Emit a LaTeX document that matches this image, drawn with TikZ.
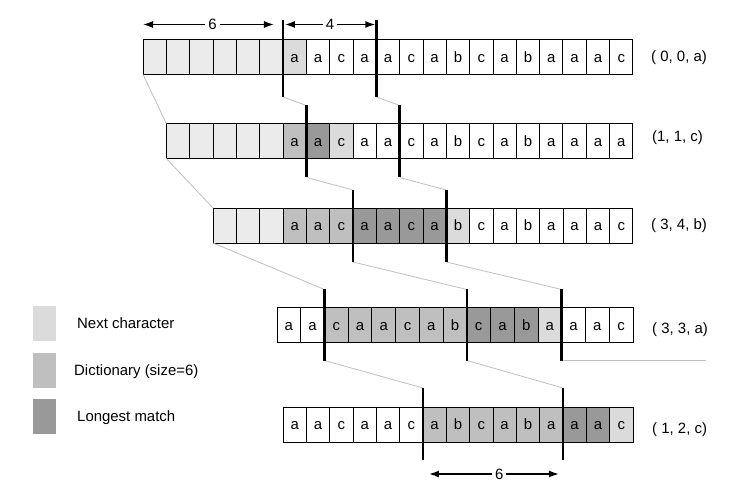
\documentclass[tikz,border=0pt]{standalone}
\usepackage{fontspec}
\setmainfont{Liberation Sans}
\usepackage{tikz}
\usetikzlibrary{arrows.meta,calc}
\definecolor{emptygray}{gray}{0.92}
\definecolor{nextgray}{gray}{0.86}
\definecolor{dictgray}{gray}{0.75}
\definecolor{matchgray}{gray}{0.6}
\definecolor{linkgray}{gray}{0.75}

\begin{document}
\begin{tikzpicture}[x=1bp, y=-1bp,
    every node/.style={font=\fontsize{15}{18}\selectfont},
    cell/.style={draw, line width=0.9bp, minimum width=#1, minimum height=35bp,
        inner sep=0pt, outer sep=0pt, text height=10.5bp, text depth=0pt},
    emp/.style={fill=emptygray},
    wht/.style={fill=white},
    dic/.style={fill=dictgray},
    mat/.style={fill=matchgray},
    nxt/.style={fill=nextgray},
    divider/.style={line width=2.6bp},
    link/.style={draw=linkgray, line width=0.8bp},
    span/.style={line width=1.4bp, {Latex[length=10bp,width=7bp]}-{Latex[length=10bp,width=7bp]}},
    tag/.style={anchor=base west, inner sep=0pt},
    swatch/.style={minimum width=23bp, minimum height=35bp, inner sep=0pt},
]
\useasboundingbox (0,0) rectangle (735,499);

% window 1
\foreach \t/\s [count=\i from 0] in {{}/emp,{}/emp,{}/emp,{}/emp,{}/emp,{}/emp,a/nxt,a/wht,c/wht,a/wht,a/wht,c/wht,a/wht,b/wht,c/wht,a/wht,b/wht,a/wht,a/wht,a/wht,c/wht}
  \node[cell=23.33bp,\s] (r1c\i) at ({143+23.33*(\i+0.5)},57) {\t};
% window 2
\foreach \t/\s [count=\i from 0] in {{}/emp,{}/emp,{}/emp,{}/emp,{}/emp,a/dic,a/mat,c/nxt,a/wht,a/wht,c/wht,a/wht,b/wht,c/wht,a/wht,b/wht,a/wht,a/wht,a/wht,a/wht}
  \node[cell=23.33bp,\s] (r2c\i) at ({166.33+23.33*(\i+0.5)},141) {\t};
% window 3
\foreach \t/\s [count=\i from 0] in {{}/emp,{}/emp,{}/emp,a/dic,a/dic,c/dic,a/mat,a/mat,c/mat,a/mat,b/nxt,c/wht,a/wht,b/wht,a/wht,a/wht,a/wht,c/wht}
  \node[cell=23.33bp,\s] (r3c\i) at ({213+23.33*(\i+0.5)},225.5) {\t};
% window 4
\foreach \t/\s [count=\i from 0] in {a/wht,a/wht,c/dic,a/dic,a/dic,c/dic,a/dic,b/dic,c/mat,a/mat,b/mat,a/nxt,a/wht,a/wht,c/wht}
  \node[cell=23.73bp,\s] (r4c\i) at ({277+23.73*(\i+0.5)},325) {\t};
% window 5
\foreach \t/\s [count=\i from 0] in {a/wht,a/wht,c/wht,a/wht,a/wht,c/wht,a/dic,b/dic,c/dic,a/dic,b/dic,a/dic,a/mat,a/mat,c/nxt}
  \node[cell=23.33bp,\s] (r5c\i) at ({283+23.33*(\i+0.5)},424.5) {\t};

% window borders
\coordinate (d1at) at ([yshift=19.5bp]r1c6.north west);
\coordinate (d1ab) at ([yshift=-22.5bp]r1c6.south west);
\coordinate (d1bt) at ([yshift=19.5bp]r1c10.north west);
\coordinate (d1bb) at ([yshift=-22.5bp]r1c10.south west);
\coordinate (d2at) at ([yshift=18bp]r2c6.north west);
\coordinate (d2ab) at ([yshift=-19bp]r2c6.south west);
\coordinate (d2bt) at ([yshift=18bp]r2c10.north west);
\coordinate (d2bb) at ([yshift=-19bp]r2c10.south west);
\coordinate (d3at) at ([yshift=18bp]r3c6.north west);
\coordinate (d3ab) at ([yshift=-19bp]r3c6.south west);
\coordinate (d3bt) at ([yshift=18bp]r3c10.north west);
\coordinate (d3bb) at ([yshift=-19bp]r3c10.south west);
\coordinate (d4at) at ([yshift=18bp]r4c2.north west);
\coordinate (d4ab) at ([yshift=-18bp]r4c2.south west);
\coordinate (d4bt) at ([yshift=18bp]r4c8.north west);
\coordinate (d4bb) at ([yshift=-18bp]r4c8.south west);
\coordinate (d4ct) at ([yshift=18bp]r4c12.north west);
\coordinate (d4cb) at ([yshift=-18bp]r4c12.south west);
\coordinate (d5at) at ([yshift=19bp]r5c6.north west);
\coordinate (d5ab) at ([yshift=-18bp]r5c6.south west);
\coordinate (d5bt) at ([yshift=19bp]r5c12.north west);
\coordinate (d5bb) at ([yshift=-18bp]r5c12.south west);
\coordinate (tail) at ([xshift=144bp]d4cb);

% links between windows
\draw[link] (r1c0.south west) -- (r2c0.north west);
\draw[link] (r2c0.south west) -- (r3c0.north west);
\draw[link] (r3c0.south west) -- (d4at);
\draw[link] (d1ab) -- (d2at);
\draw[link] (d1bb) -- (d2bt);
\draw[link] (d2ab) -- (d3at);
\draw[link] (d2bb) -- (d3bt);
\draw[link] (d3ab) -- (d4bt);
\draw[link] (d3bb) -- (d4ct);
\draw[link] (d4ab) -- (d5at);
\draw[link] (d4bb) -- (d5bt);
\draw[link] (d4cb) -- (tail);

\draw[divider] (d1at) -- (d1ab);
\draw[divider] (d1bt) -- (d1bb);
\draw[divider] (d2at) -- (d2ab);
\draw[divider] (d2bt) -- (d2bb);
\draw[divider] (d3at) -- (d3ab);
\draw[divider] (d3bt) -- (d3bb);
\draw[divider] (d4at) -- (d4ab);
\draw[divider] (d4bt) -- (d4bb);
\draw[divider] (d4ct) -- (d4cb);
\draw[divider] (d5at) -- (d5ab);
\draw[divider] (d5bt) -- (d5bb);

% size arrows
\coordinate (s1a) at ([yshift=15bp]r1c0.north west);
\coordinate (s1b) at ([xshift=-9bp]s1a -| d1at);
\coordinate (f1a) at ([xshift=2bp]s1a -| d1at);
\coordinate (f1b) at ([xshift=-1bp]s1a -| d1bt);
\coordinate (s2a) at ([xshift=6bp,yshift=-14bp]d5ab);
\coordinate (s2b) at ([xshift=-4bp,yshift=-14bp]d5bb);
\draw[span] (s1a) -- node[pos=0.53, fill=white, inner sep=3bp] (six1) {6} (s1b);
\draw[span] (f1a) -- node[fill=white, inner sep=3bp] (four) {4} (f1b);
\draw[span] (s2a) -- node[pos=0.54, fill=white, inner sep=3bp] (six2) {6} (s2b);

% tokens
\node[tag] (out1) at (651,61.7) {( 0, 0, a)};
\node[tag] (out2) at (652,141.7) {(1, 1, c)};
\node[tag] (out3) at (651,230) {( 3, 4, b)};
\node[tag] (out4) at (652,333.5) {( 3, 3, a)};
\node[tag] (out5) at (652,433.5) {( 1, 2, c)};

% legend
\node[swatch, fill=nextgray] (key1) at (44.5,323.5) {};
\node[swatch, fill=dictgray] (key2) at (44.5,370) {};
\node[swatch, fill=matchgray] (key3) at (44.5,416.5) {};
\node[tag] (lab1) at (77,328.3) {Next character};
\node[tag] (lab2) at (74,375) {Dictionary (size=6)};
\node[tag] (lab3) at (77,421.7) {Longest match};
\end{tikzpicture}
\end{document}
